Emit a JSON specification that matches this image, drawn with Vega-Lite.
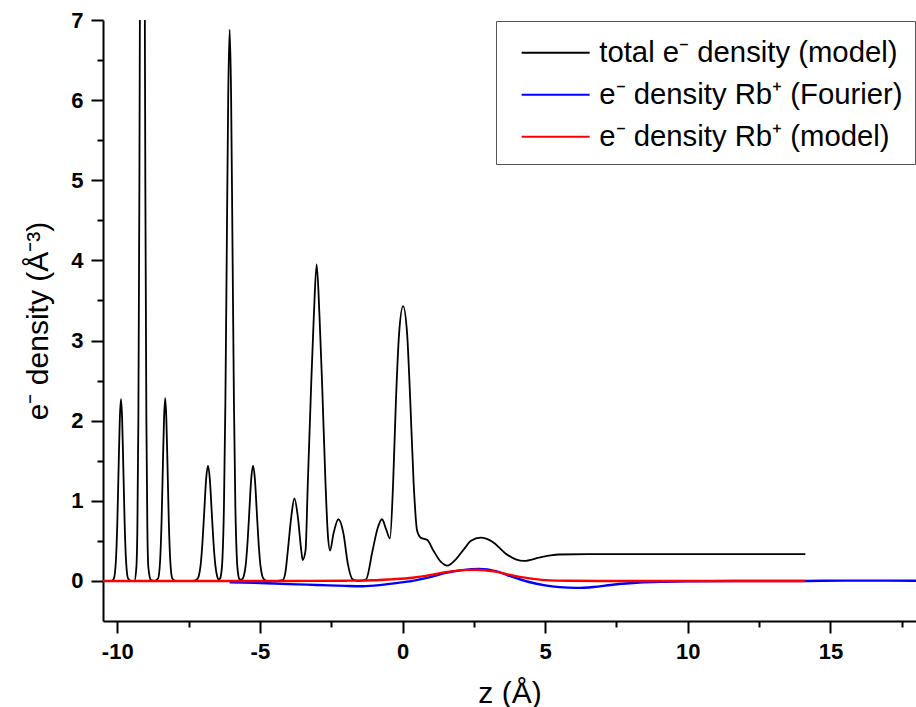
{
  "$schema": "https://vega.github.io/schema/vega-lite/v6.json",
  "width": 813,
  "height": 601,
  "autosize": "none",
  "padding": {"left": 103, "top": 20, "right": 0, "bottom": 86},
  "background": "white",
  "config": {
    "view": {"stroke": null},
    "font": "Liberation Sans",
    "axis": {
      "grid": false,
      "domainColor": "black",
      "domainWidth": 2,
      "tickColor": "black",
      "tickWidth": 2,
      "tickSize": 12,
      "labelFont": "Liberation Sans",
      "labelFontSize": 22,
      "labelFontWeight": "bold",
      "labelColor": "black",
      "labelPadding": 8,
      "titleFont": "Liberation Sans",
      "titleFontSize": 30,
      "titleFontWeight": "normal",
      "titleColor": "black"
    },
    "legend": {
      "orient": "top-right",
      "offset": 1,
      "symbolType": "M-0.1,0L6.7,0",
      "symbolSize": 400,
      "symbolStrokeWidth": 2,
      "labelFont": "Liberation Sans",
      "labelFontSize": 29.3,
      "labelColor": "black",
      "labelOffset": 62,
      "labelLimit": 0,
      "padding": 12,
      "rowPadding": 12,
      "titleFontSize": 2,
      "titlePadding": 3,
      "strokeColor": "#555555",
      "fillColor": "white"
    }
  },
  "datasets": {
    "total": [
      {"z": -10.5, "d": 0}, {"z": -10.2, "d": 0}, {"z": -10.12, "d": 0.03}, {"z": -10.05, "d": 0.24},
      {"z": -10.0, "d": 0.70}, {"z": -9.95, "d": 1.46}, {"z": -9.91, "d": 2.03}, {"z": -9.87, "d": 2.27},
      {"z": -9.83, "d": 2.03}, {"z": -9.79, "d": 1.46}, {"z": -9.74, "d": 0.70}, {"z": -9.69, "d": 0.24},
      {"z": -9.62, "d": 0.03}, {"z": -9.52, "d": 0}, {"z": -9.40, "d": 0}, {"z": -9.33, "d": 0.17},
      {"z": -9.295, "d": 0.66}, {"z": -9.26, "d": 2.03}, {"z": -9.225, "d": 4.87}, {"z": -9.19, "d": 9.1},
      {"z": -9.155, "d": 13.2}, {"z": -9.12, "d": 15}, {"z": -9.085, "d": 13.2}, {"z": -9.05, "d": 9.1},
      {"z": -9.015, "d": 4.87}, {"z": -8.98, "d": 2.03}, {"z": -8.945, "d": 0.66}, {"z": -8.91, "d": 0.17},
      {"z": -8.82, "d": 0.01}, {"z": -8.70, "d": 0}, {"z": -8.57, "d": 0.03}, {"z": -8.50, "d": 0.24},
      {"z": -8.45, "d": 0.70}, {"z": -8.40, "d": 1.46}, {"z": -8.36, "d": 2.03}, {"z": -8.32, "d": 2.28},
      {"z": -8.28, "d": 2.03}, {"z": -8.24, "d": 1.46}, {"z": -8.19, "d": 0.70}, {"z": -8.14, "d": 0.24},
      {"z": -8.07, "d": 0.03}, {"z": -7.95, "d": 0}, {"z": -7.35, "d": 0}, {"z": -7.21, "d": 0.02},
      {"z": -7.145, "d": 0.06}, {"z": -7.08, "d": 0.19}, {"z": -7.015, "d": 0.47}, {"z": -6.95, "d": 0.87},
      {"z": -6.885, "d": 1.27}, {"z": -6.82, "d": 1.44}, {"z": -6.755, "d": 1.27}, {"z": -6.69, "d": 0.87},
      {"z": -6.625, "d": 0.47}, {"z": -6.56, "d": 0.19}, {"z": -6.50, "d": 0.06}, {"z": -6.45, "d": 0.02},
      {"z": -6.40, "d": 0.03}, {"z": -6.36, "d": 0.08}, {"z": -6.31, "d": 0.30}, {"z": -6.26, "d": 0.93},
      {"z": -6.21, "d": 2.23}, {"z": -6.16, "d": 4.17}, {"z": -6.11, "d": 6.07}, {"z": -6.06, "d": 6.88},
      {"z": -6.01, "d": 6.07}, {"z": -5.96, "d": 4.17}, {"z": -5.91, "d": 2.23}, {"z": -5.86, "d": 0.93},
      {"z": -5.81, "d": 0.30}, {"z": -5.76, "d": 0.08}, {"z": -5.71, "d": 0.02}, {"z": -5.66, "d": 0.015},
      {"z": -5.60, "d": 0.03}, {"z": -5.565, "d": 0.06}, {"z": -5.50, "d": 0.19}, {"z": -5.435, "d": 0.47},
      {"z": -5.37, "d": 0.87}, {"z": -5.305, "d": 1.27}, {"z": -5.24, "d": 1.44}, {"z": -5.175, "d": 1.27},
      {"z": -5.11, "d": 0.87}, {"z": -5.045, "d": 0.47}, {"z": -4.98, "d": 0.19}, {"z": -4.915, "d": 0.06},
      {"z": -4.85, "d": 0.02}, {"z": -4.75, "d": 0}, {"z": -4.40, "d": 0}, {"z": -4.20, "d": 0.01},
      {"z": -4.10, "d": 0.12}, {"z": -4.02, "d": 0.38}, {"z": -3.90, "d": 0.80}, {"z": -3.79, "d": 1.03},
      {"z": -3.67, "d": 0.80}, {"z": -3.55, "d": 0.38}, {"z": -3.50, "d": 0.26}, {"z": -3.40, "d": 0.38},
      {"z": -3.32, "d": 1.22}, {"z": -3.20, "d": 2.47}, {"z": -3.11, "d": 3.30}, {"z": -3.01, "d": 3.95},
      {"z": -2.91, "d": 3.30}, {"z": -2.82, "d": 2.47}, {"z": -2.70, "d": 1.22}, {"z": -2.62, "d": 0.59},
      {"z": -2.54, "d": 0.38}, {"z": -2.42, "d": 0.59}, {"z": -2.25, "d": 0.77}, {"z": -2.07, "d": 0.59},
      {"z": -1.92, "d": 0.22}, {"z": -1.75, "d": 0.02}, {"z": -1.52, "d": 0}, {"z": -1.28, "d": 0.02},
      {"z": -1.05, "d": 0.38}, {"z": -0.87, "d": 0.66}, {"z": -0.72, "d": 0.77}, {"z": -0.58, "d": 0.65},
      {"z": -0.44, "d": 0.53}, {"z": -0.33, "d": 1.22}, {"z": -0.23, "d": 2.26}, {"z": -0.12, "d": 3.09},
      {"z": 0.02, "d": 3.43}, {"z": 0.16, "d": 3.09}, {"z": 0.27, "d": 2.26}, {"z": 0.39, "d": 1.22},
      {"z": 0.51, "d": 0.63}, {"z": 0.64, "d": 0.54}, {"z": 0.87, "d": 0.51}, {"z": 1.08, "d": 0.38},
      {"z": 1.34, "d": 0.24}, {"z": 1.57, "d": 0.19}, {"z": 1.87, "d": 0.27}, {"z": 2.16, "d": 0.40},
      {"z": 2.40, "d": 0.50}, {"z": 2.74, "d": 0.54}, {"z": 3.15, "d": 0.49}, {"z": 3.62, "d": 0.34},
      {"z": 3.97, "d": 0.27}, {"z": 4.26, "d": 0.25}, {"z": 4.78, "d": 0.29}, {"z": 5.20, "d": 0.32},
      {"z": 5.48, "d": 0.33}, {"z": 6.5, "d": 0.335}, {"z": 8.0, "d": 0.335}, {"z": 10.0, "d": 0.335},
      {"z": 12.0, "d": 0.335}, {"z": 14.12, "d": 0.335}
    ],
    "fourier": [
      {"z": -6.06, "d": -0.016}, {"z": -5.0, "d": -0.025}, {"z": -4.0, "d": -0.04}, {"z": -3.0, "d": -0.05},
      {"z": -2.0, "d": -0.062}, {"z": -1.4, "d": -0.066}, {"z": -0.8, "d": -0.052}, {"z": -0.3, "d": -0.03},
      {"z": 0.35, "d": 0.0}, {"z": 1.0, "d": 0.05}, {"z": 1.52, "d": 0.10}, {"z": 2.1, "d": 0.135},
      {"z": 2.68, "d": 0.15}, {"z": 3.3, "d": 0.12}, {"z": 3.85, "d": 0.05}, {"z": 4.4, "d": -0.01},
      {"z": 5.0, "d": -0.055}, {"z": 5.5, "d": -0.077}, {"z": 6.1, "d": -0.087}, {"z": 6.7, "d": -0.075},
      {"z": 7.3, "d": -0.05}, {"z": 8.3, "d": -0.02}, {"z": 9.2, "d": -0.01}, {"z": 10.1, "d": -0.005},
      {"z": 12.0, "d": 0.0}, {"z": 14.1, "d": 0.0}, {"z": 15.5, "d": 0.004}, {"z": 17.0, "d": 0.004},
      {"z": 18.0, "d": 0.002}
    ],
    "model": [
      {"z": -10.5, "d": 0}, {"z": -4.0, "d": 0}, {"z": -2.0, "d": 0.003}, {"z": -1.0, "d": 0.008},
      {"z": -0.4, "d": 0.02}, {"z": 0.35, "d": 0.04}, {"z": 1.0, "d": 0.075}, {"z": 1.52, "d": 0.11},
      {"z": 2.1, "d": 0.135}, {"z": 2.6, "d": 0.14}, {"z": 3.2, "d": 0.12}, {"z": 3.85, "d": 0.07},
      {"z": 4.4, "d": 0.035}, {"z": 5.0, "d": 0.01}, {"z": 5.8, "d": 0.002}, {"z": 7.0, "d": 0},
      {"z": 14.12, "d": 0}
    ]
  },
  "resolve": {"axis": {"x": "independent", "y": "independent"}},
  "layer": [
    {
      "data": {"name": "total"},
      "mark": {"type": "line", "interpolate": "monotone", "strokeWidth": 1.8, "clip": true},
      "encoding": {
        "x": {
          "field": "z", "type": "quantitative",
          "scale": {"domain": [-10.5, 18], "nice": false, "zero": false},
          "axis": {"values": [-10, -5, 0, 5, 10, 15], "labelExpr": "datum.value < 0 ? '-' + abs(datum.value) : datum.label", "title": "z (Å)", "orient": "bottom", "titleY": 72, "titleBaseline": "middle"}
        },
        "y": {
          "field": "d", "type": "quantitative",
          "scale": {"domain": [-0.5, 7], "nice": false, "zero": false},
          "axis": {"values": [0, 1, 2, 3, 4, 5, 6, 7], "title": "e⁻ density (Å⁻³)", "orient": "left", "titleX": -65, "titleBaseline": "middle"}
        },
        "color": {
          "datum": "total e⁻ density (model)", "type": "nominal",
          "scale": {"domain": ["total e⁻ density (model)", "e⁻ density Rb⁺ (Fourier)", "e⁻ density Rb⁺ (model)"], "range": ["#000000", "#0000ff", "#ff0000"]},
          "legend": {"title": " "}
        }
      }
    },
    {
      "data": {"name": "fourier"},
      "mark": {"type": "line", "interpolate": "monotone", "strokeWidth": 2.4, "clip": true},
      "encoding": {
        "x": {"field": "z", "type": "quantitative", "axis": null},
        "y": {"field": "d", "type": "quantitative", "axis": null},
        "color": {"datum": "e⁻ density Rb⁺ (Fourier)", "type": "nominal"}
      }
    },
    {
      "data": {"name": "model"},
      "mark": {"type": "line", "interpolate": "monotone", "strokeWidth": 2.4, "clip": true},
      "encoding": {
        "x": {"field": "z", "type": "quantitative", "axis": {"values": [-7.5, -2.5, 2.5, 7.5, 12.5, 17.5], "labels": false, "domain": false, "tickSize": 6, "title": null, "orient": "bottom"}},
        "y": {"field": "d", "type": "quantitative", "axis": {"values": [0.5, 1.5, 2.5, 3.5, 4.5, 5.5, 6.5], "labels": false, "domain": false, "tickSize": 6, "title": null, "orient": "left"}},
        "color": {"datum": "e⁻ density Rb⁺ (model)", "type": "nominal"}
      }
    }
  ]
}
